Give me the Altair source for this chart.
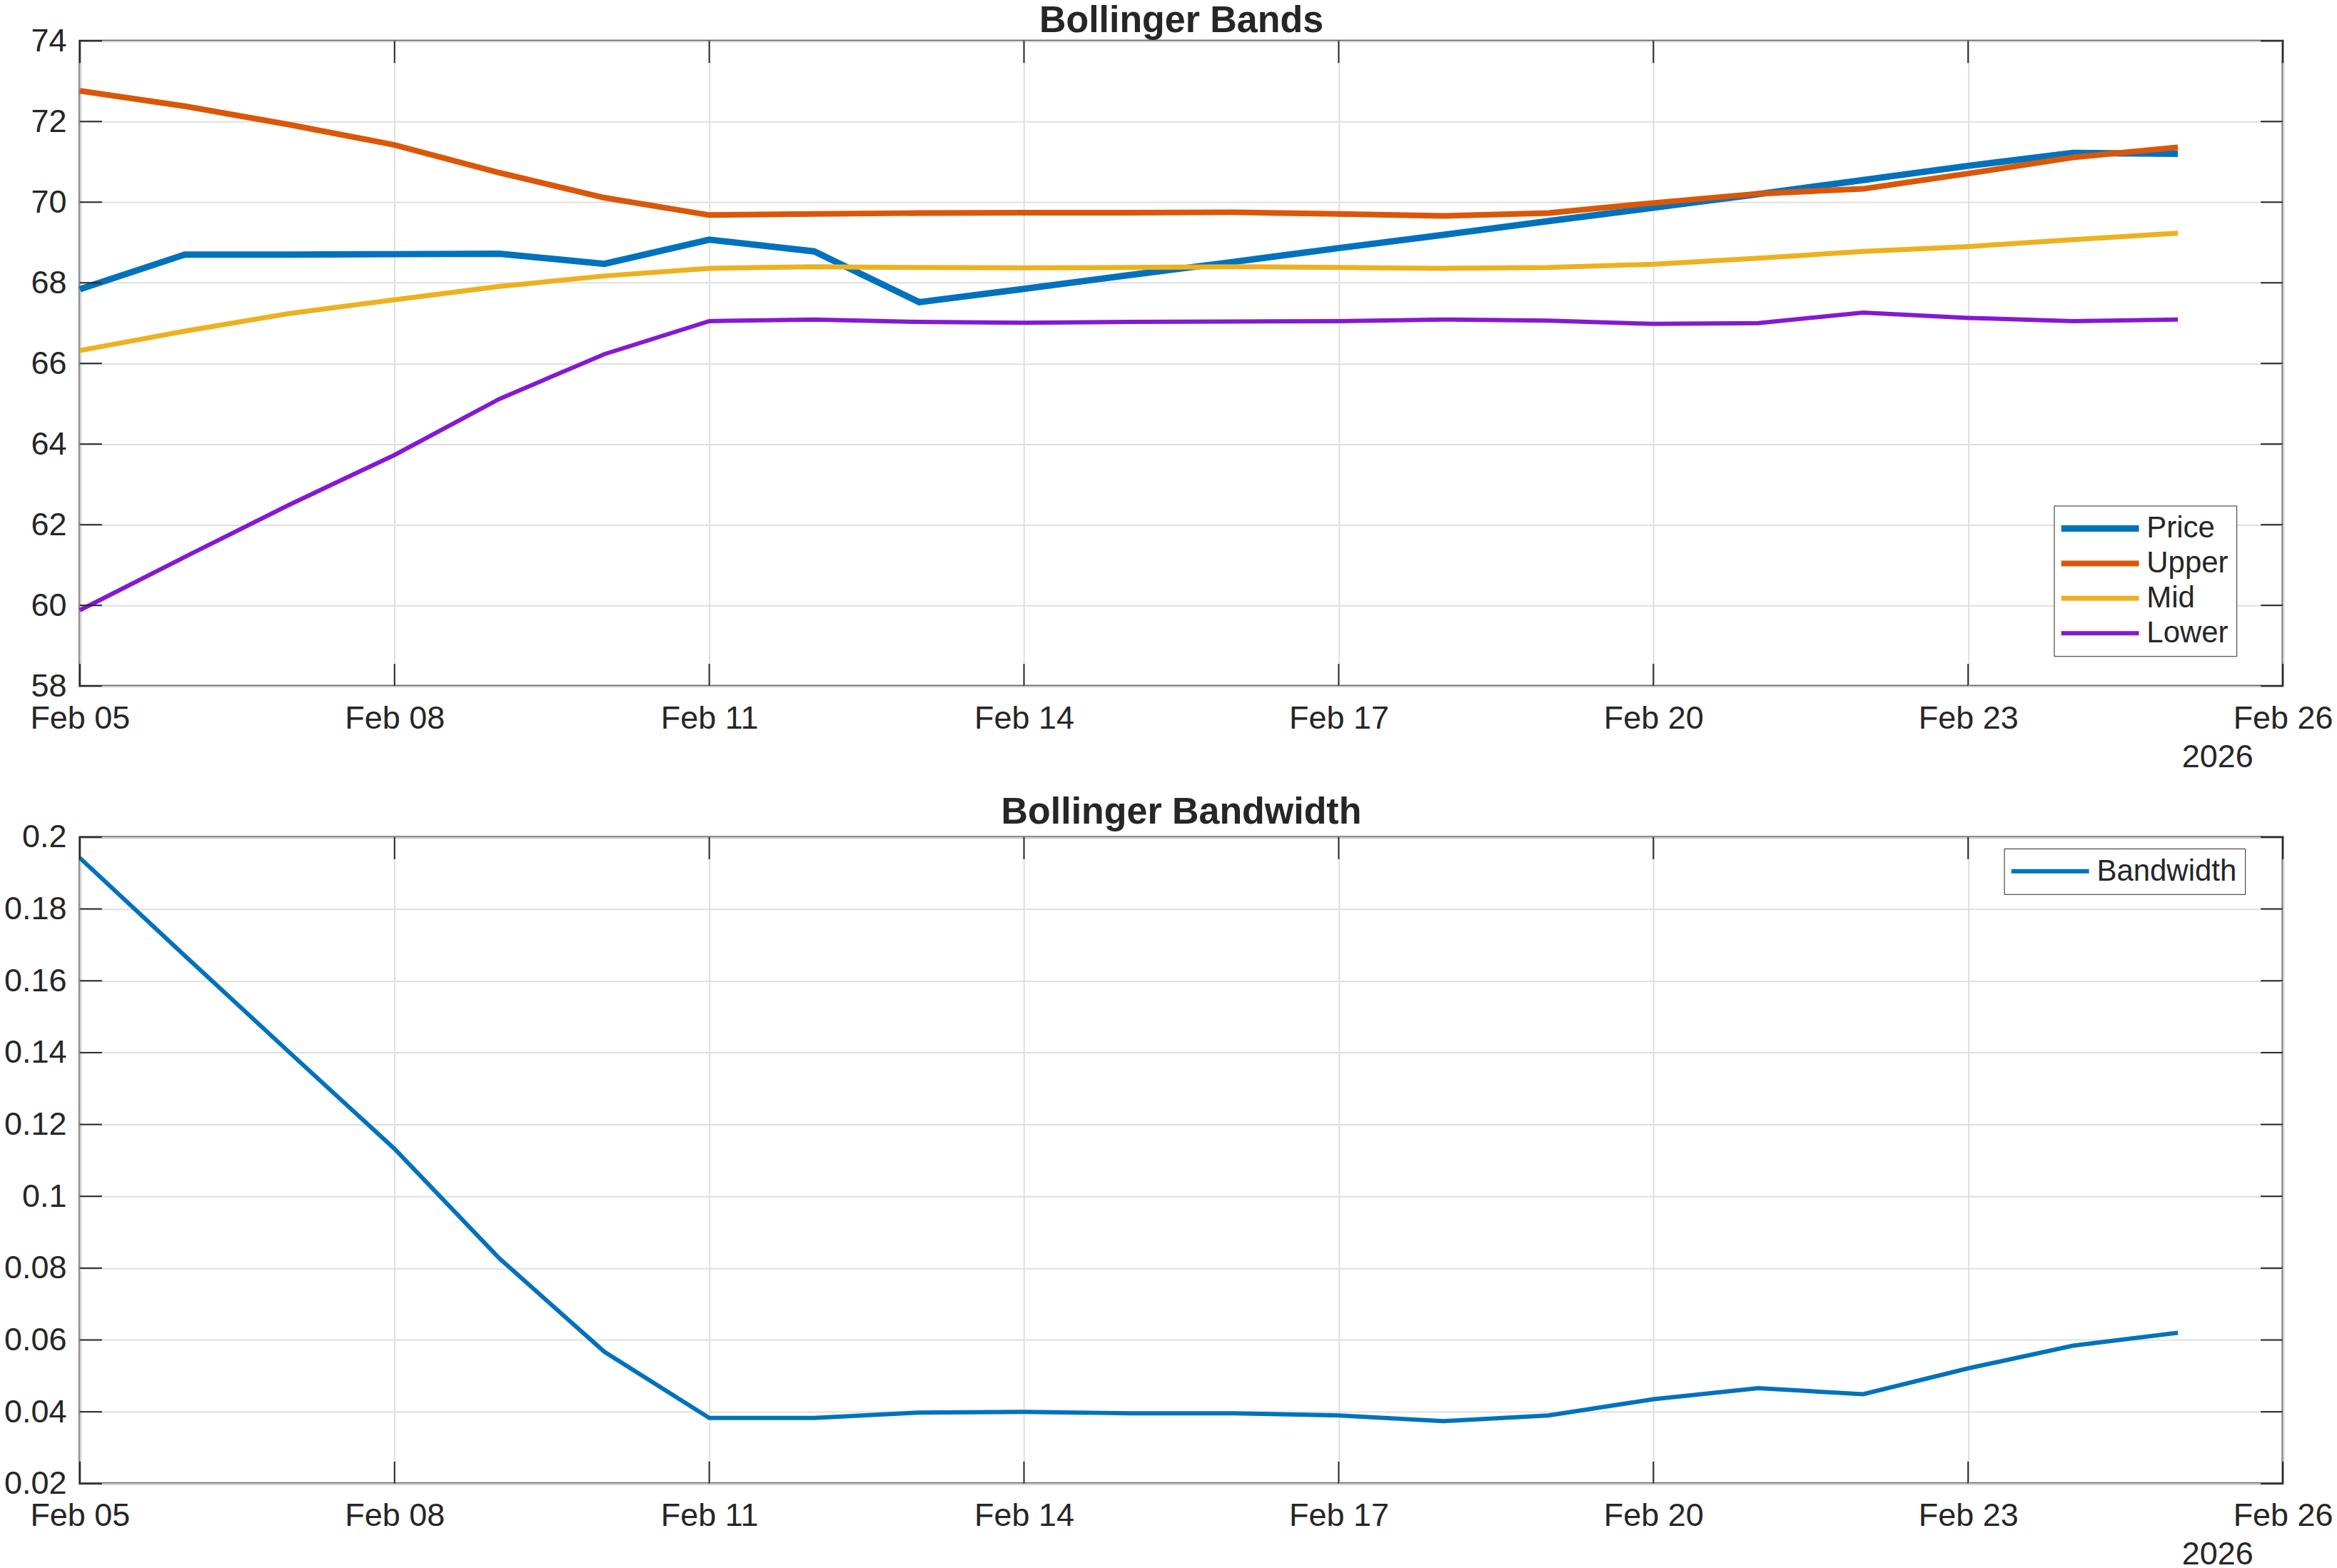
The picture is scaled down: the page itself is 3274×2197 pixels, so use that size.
import altair as alt
import pandas as pd

# ---------------- data ----------------
dates = [f"2026-02-{d:02d}" for d in range(5, 26)]

price = [67.84, 68.70, 68.70, 68.71, 68.72, 68.47, 69.07, 68.78, 67.52, 67.85, 68.19,
         68.52, 68.86, 69.19, 69.53, 69.86, 70.20, 70.55, 70.90, 71.22, 71.20]
upper = [72.76, 72.38, 71.92, 71.42, 70.73, 70.11, 69.68, 69.71, 69.73, 69.74, 69.74,
         69.75, 69.71, 69.66, 69.73, 69.98, 70.21, 70.33, 70.71, 71.11, 71.36]
mid = [66.32, 66.80, 67.24, 67.58, 67.91, 68.17, 68.36, 68.40, 68.38, 68.37, 68.38,
       68.40, 68.38, 68.36, 68.38, 68.46, 68.61, 68.78, 68.90, 69.07, 69.23]
lower = [59.88, 61.20, 62.50, 63.73, 65.12, 66.23, 67.05, 67.09, 67.03, 67.01, 67.03,
         67.04, 67.05, 67.09, 67.06, 66.98, 67.00, 67.26, 67.13, 67.05, 67.09]
bandwidth = [0.1942, 0.1670, 0.1400, 0.1132, 0.0827, 0.0567, 0.0383, 0.0383, 0.0398, 0.0400, 0.0396,
             0.0396, 0.0390, 0.0374, 0.0390, 0.0435, 0.0466, 0.0449, 0.0521, 0.0584, 0.0620]

series_names = ["Price", "Upper", "Mid", "Lower"]
series_colors = ["#0072BD", "#DA5709", "#EDB120", "#8419D3"]
series_widths = [9, 6, 6, 6]

x_tick_days = [5, 8, 11, 14, 17, 20, 23, 26]
y_ticks_top = [58, 60, 62, 64, 66, 68, 70, 72, 74]
y_ticks_bottom = [0.02, 0.04, 0.06, 0.08, 0.1, 0.12, 0.14, 0.16, 0.18, 0.2]

# ---------------- layout constants ----------------
W = 3090
H1 = 905
H2 = 907
TICK = 31
INK = "#262626"
FONT = "Liberation Sans"

series_values = [price, upper, mid, lower]
bands_df = pd.DataFrame({
    "date": dates * 4,
    "value": [v for vals in series_values for v in vals],
    "series": [s for s in series_names for _ in dates],
})
bw_df = pd.DataFrame({"date": dates, "value": bandwidth, "series": ["Bandwidth"] * len(dates)})
xticks_df = pd.DataFrame({"date": [f"2026-02-{d:02d}" for d in x_tick_days]})


def dt(d):
    return alt.DateTime(year=2026, month=2, date=d, utc=True)


def x_enc():
    return alt.X(
        "date:T",
        scale=alt.Scale(type="utc", domain=[dt(5), dt(26)], nice=False),
        axis=alt.Axis(
            values=[dt(d) for d in x_tick_days],
            labelExpr="utcFormat(datum.value, '%b %d')",
            title="2026",
            titleX=2998, titleY=113, titleAlign="center", titleBaseline="alphabetic",
            titleFont=FONT, titleFontSize=45, titleFontWeight="normal", titleColor=INK,
            grid=True, gridColor="#dfdfdf", gridWidth=2,
            ticks=False, domain=False,
            labelFont=FONT, labelFontSize=45, labelColor=INK, labelPadding=23,
            labelFlush=False, labelOverlap=False,
        ),
    )


def y_enc(domain, values, fmt):
    return alt.Y(
        "value:Q",
        scale=alt.Scale(domain=domain, nice=False, zero=False),
        axis=alt.Axis(
            values=values, format=fmt, title=None,
            grid=True, gridColor="#dfdfdf", gridWidth=2,
            ticks=False, domain=False,
            labelFont=FONT, labelFontSize=45, labelColor=INK, labelPadding=19,
            labelOverlap=False, labelFlush=False,
        ),
    )


def legend(x, y, **kw):
    return alt.Legend(
        title=None, orient="none", legendX=x, legendY=y,
        symbolType="M-2,0H8", symbolSize=475, labelOffset=77,
        padding=11, rowPadding=7, labelLimit=600,
        strokeColor=INK, fillColor="white",
        labelFont=FONT, labelFontSize=42, labelColor=INK, **kw
    )


def panel(lines, y_domain, y_values, fmt, height, title, title_offset):
    ye = y_enc(y_domain, y_values, fmt)
    ydf = pd.DataFrame({"value": y_values})
    lines = lines.encode(x=x_enc(), y=ye)
    xt_bot = alt.Chart(xticks_df).mark_rule(color=INK, strokeWidth=2).encode(
        x=x_enc(), y=alt.value(height), y2=alt.value(height - TICK))
    xt_top = alt.Chart(xticks_df).mark_rule(color=INK, strokeWidth=2).encode(
        x=x_enc(), y=alt.value(0), y2=alt.value(TICK))
    yt_left = alt.Chart(ydf).mark_rule(color=INK, strokeWidth=2).encode(
        y=ye, x=alt.value(0), x2=alt.value(TICK))
    yt_right = alt.Chart(ydf).mark_rule(color=INK, strokeWidth=2).encode(
        y=ye, x=alt.value(W - TICK), x2=alt.value(W))
    return alt.layer(lines, xt_bot, xt_top, yt_left, yt_right).properties(
        width=W, height=height,
        title=alt.TitleParams(title, font=FONT, fontSize=52, fontWeight="bold", color=INK,
                              anchor="middle", frame="group", baseline="alphabetic",
                              offset=title_offset),
    )


top_leg = legend(2769, 652)
top_lines = alt.Chart(bands_df).mark_line().encode(
    color=alt.Color("series:N", scale=alt.Scale(domain=series_names, range=series_colors), legend=top_leg),
    strokeWidth=alt.StrokeWidth("series:N", scale=alt.Scale(domain=series_names, range=series_widths),
                                legend=top_leg),
)
top = panel(top_lines, [58, 74], y_ticks_top, "d", H1, "Bollinger Bands", -62)

bot_leg = legend(2699, 16, symbolStrokeWidth=6)
bot_lines = alt.Chart(bw_df).mark_line(strokeWidth=6).encode(
    color=alt.Color("series:N", scale=alt.Scale(domain=["Bandwidth"], range=["#0072BD"]), legend=bot_leg),
)
bottom = panel(bot_lines, [0.02, 0.2], y_ticks_bottom, ".2~f", H2, "Bollinger Bandwidth", -55)

chart = alt.vconcat(top, bottom, spacing=212, bounds="flush").resolve_scale(
    color="independent", strokeWidth="independent"
).properties(
    padding={"left": 3, "top": 0, "right": 4, "bottom": 0},
    background="white",
).configure_view(stroke=INK, strokeWidth=3)

chart.save("out.html", embed_options={"renderer": "svg", "actions": False})
